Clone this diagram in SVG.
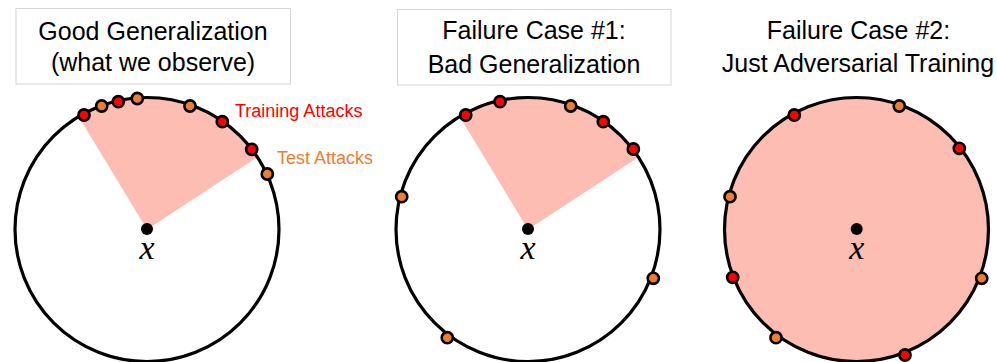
<svg xmlns="http://www.w3.org/2000/svg" width="997" height="362" viewBox="0 0 997 362">
<style>
.title{font-family:"Liberation Sans",Arial,sans-serif;font-size:25px;fill:#000;text-anchor:middle}
.box{fill:#fff;stroke:#D6D6D6;stroke-width:1}
.ring{fill:none;stroke:#000;stroke-width:3.2}
.wedge{fill:#FEBDB3;stroke:none}
.ctr{fill:#000}
.xl{font-family:"Liberation Serif","Times New Roman",serif;font-style:italic;font-size:34px;fill:#000;text-anchor:middle}
.tr{fill:#FF0000;stroke:#000;stroke-width:2.6}
.te{fill:#ED7D31;stroke:#000;stroke-width:2.6}
.lbl{font-family:"Liberation Sans",Arial,sans-serif;font-size:18px}
</style>
<rect width="997" height="362" fill="#fff"/>

<g id="panel1">
  <rect class="box" x="16" y="8.5" width="274.5" height="75.5"/>
  <text class="title" x="153" y="39.5">Good Generalization</text>
  <text class="title" x="153" y="71">(what we observe)</text>
  <path class="wedge" d="M147,229.5 L78.6,116.6 A132,132 0 0 1 257.4,157.2 Z"/>
  <circle class="ring" cx="147" cy="229.5" r="132"/>
  <circle class="ctr" cx="147" cy="229" r="6"/>
  <text class="xl" x="147" y="259">x</text>
  <circle class="tr" cx="84" cy="115" r="5.6"/>
  <circle class="te" cx="101.7" cy="106" r="5.6"/>
  <circle class="tr" cx="118.3" cy="101.7" r="5.6"/>
  <circle class="te" cx="137.3" cy="98.5" r="5.6"/>
  <circle class="te" cx="190" cy="106" r="5.6"/>
  <circle class="tr" cx="222.3" cy="121.7" r="5.6"/>
  <circle class="tr" cx="251.7" cy="149.3" r="5.6"/>
  <circle class="te" cx="267.3" cy="174" r="5.6"/>
  <text class="lbl" x="235" y="117" fill="#FF0000">Training Attacks</text>
  <text class="lbl" x="277" y="163.5" fill="#ED7D31">Test Attacks</text>
</g>

<g id="panel2">
  <rect class="box" x="397.5" y="9.5" width="273.5" height="75.5"/>
  <text class="title" x="534" y="39">Failure Case #1:</text>
  <text class="title" x="534" y="72.5">Bad Generalization</text>
  <path class="wedge" d="M528,229.5 L459.6,116.6 A132,132 0 0 1 638.4,157.2 Z"/>
  <circle class="ring" cx="528" cy="229.5" r="132"/>
  <circle class="ctr" cx="528" cy="229" r="6"/>
  <text class="xl" x="528" y="259">x</text>
  <circle class="tr" cx="465.7" cy="115" r="5.6"/>
  <circle class="tr" cx="500" cy="101.7" r="5.6"/>
  <circle class="te" cx="570.7" cy="106" r="5.6"/>
  <circle class="tr" cx="603.3" cy="121.7" r="5.6"/>
  <circle class="tr" cx="633.3" cy="149" r="5.6"/>
  <circle class="te" cx="401.7" cy="196.7" r="5.6"/>
  <circle class="te" cx="653.3" cy="278.3" r="5.6"/>
  <circle class="te" cx="447.3" cy="337.7" r="5.6"/>
</g>

<g id="panel3">
  <text class="title" x="858.5" y="39">Failure Case #2:</text>
  <text class="title" x="858" y="72">Just Adversarial Training</text>
  <circle class="wedge" cx="856.5" cy="229.5" r="132"/>
  <circle class="ring" cx="856.5" cy="229.5" r="132"/>
  <circle class="ctr" cx="856.7" cy="229" r="6"/>
  <text class="xl" x="856.7" y="259">x</text>
  <circle class="tr" cx="794.3" cy="115" r="5.6"/>
  <circle class="te" cx="899.3" cy="106" r="5.6"/>
  <circle class="tr" cx="959.3" cy="148.3" r="5.6"/>
  <circle class="te" cx="730" cy="196.7" r="5.6"/>
  <circle class="tr" cx="732.7" cy="277.3" r="5.6"/>
  <circle class="te" cx="981.7" cy="278.3" r="5.6"/>
  <circle class="te" cx="776" cy="337.7" r="5.6"/>
  <circle class="tr" cx="905" cy="355" r="5.6"/>
</g>

<g id="connectors"></g>
</svg>
